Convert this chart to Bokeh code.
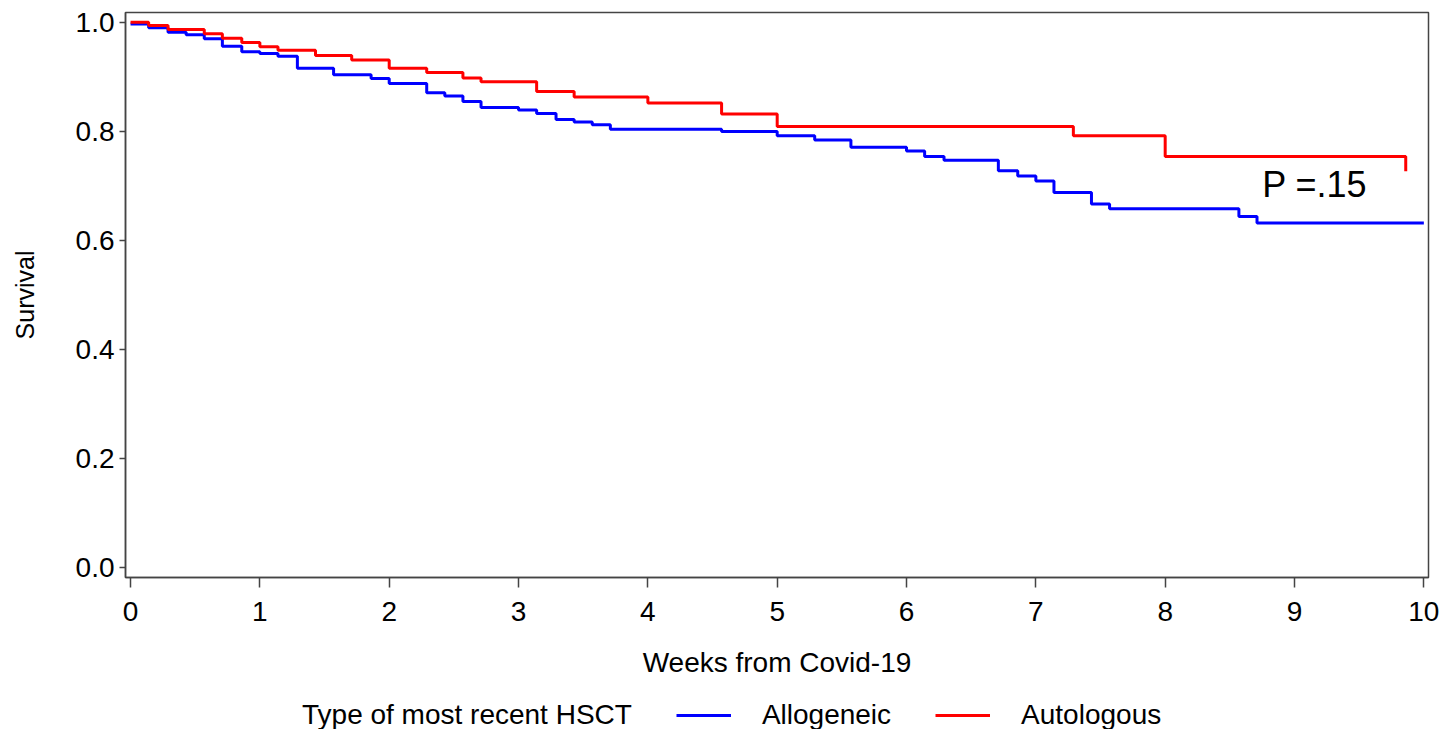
from bokeh.plotting import figure
from bokeh.layouts import column
from bokeh.models import Range1d, FixedTicker, PrintfTickFormatter, Legend, LegendItem, Label
from bokeh.embed import file_html
from bokeh.resources import INLINE
from bokeh.core.properties import value

# ---- data ----
allo_weeks = [0, 0.14, 0.29, 0.43, 0.57, 0.71, 0.86, 1.0, 1.14, 1.29, 1.57, 1.86, 2.0,
              2.29, 2.43, 2.57, 2.71, 3.0, 3.14, 3.29, 3.43, 3.57, 3.71, 4.57, 5.0,
              5.29, 5.57, 6.0, 6.14, 6.29, 6.71, 6.86, 7.0, 7.14, 7.43, 7.57, 8.57,
              8.71, 10.0]
allo_surv = [0.997, 0.990, 0.982, 0.977, 0.970, 0.956, 0.946, 0.943, 0.938, 0.916,
             0.904, 0.897, 0.888, 0.871, 0.865, 0.855, 0.844, 0.839, 0.833, 0.822,
             0.817, 0.812, 0.804, 0.800, 0.792, 0.784, 0.771, 0.764, 0.754, 0.747,
             0.728, 0.718, 0.709, 0.688, 0.667, 0.658, 0.644, 0.632, 0.632]

auto_weeks = [0, 0.14, 0.29, 0.57, 0.71, 0.86, 1.0, 1.14, 1.43, 1.71, 2.0, 2.29, 2.57,
              2.71, 3.14, 3.43, 4.0, 4.57, 5.0, 7.29, 8.0, 9.86]
auto_surv = [1.0, 0.994, 0.987, 0.979, 0.971, 0.963, 0.955, 0.949, 0.939, 0.931,
             0.916, 0.908, 0.898, 0.891, 0.873, 0.863, 0.852, 0.832, 0.809, 0.792,
             0.754, 0.727]

x_ticks = [0, 1, 2, 3, 4, 5, 6, 7, 8, 9, 10]
y_ticks = [0.0, 0.2, 0.4, 0.6, 0.8, 1.0]
group_title = "Type of most recent HSCT"
group_names = ["Allogeneic", "Autologous"]
group_colors = ["#0000FF", "#FF0000"]
p_value_text = "P =.15"
x_label = "Weeks from Covid-19"
y_label = "Survival"

FONT = "Liberation Sans"
FRAME = "#444444"
NAN = float("nan")

# ---- main chart ----
p = figure(width=1442, height=692,
           x_range=Range1d(-0.039, 10.036), y_range=Range1d(-0.018, 1.018),
           output_backend="svg", toolbar_location=None,
           min_border_left=125, min_border_right=14, min_border_top=12, min_border_bottom=115,
           x_axis_label=x_label, y_axis_label=y_label)
p.grid.visible = False
p.outline_line_color = FRAME
p.outline_line_width = 1.5
p.background_fill_color = "white"
p.border_fill_color = "white"

p.step(allo_weeks, allo_surv, mode="after", line_color=group_colors[0], line_width=3)
p.step(auto_weeks, auto_surv, mode="after", line_color=group_colors[1], line_width=3)

for ax in (p.xaxis[0], p.yaxis[0]):
    ax.axis_line_color = FRAME
    ax.axis_line_width = 1.5
    ax.major_tick_line_color = FRAME
    ax.major_tick_line_width = 1.5
    ax.minor_tick_line_color = None
    ax.major_tick_in = 0
    ax.major_label_text_font = FONT
    ax.major_label_text_font_size = "28px"
    ax.major_label_text_color = "black"
    ax.axis_label_text_font = FONT
    ax.axis_label_text_font_style = "normal"
    ax.axis_label_text_color = "black"

xa = p.xaxis[0]
xa.ticker = FixedTicker(ticks=x_ticks)
xa.major_tick_out = 10
xa.major_label_standoff = 14
xa.axis_label_standoff = 23
xa.axis_label_text_font_size = "28px"

ya = p.yaxis[0]
ya.ticker = FixedTicker(ticks=y_ticks)
ya.formatter = PrintfTickFormatter(format="%.1f")
ya.major_tick_out = 6
ya.major_label_standoff = 5
ya.axis_label_standoff = 34
ya.axis_label_text_font_size = "25px"

p.add_layout(Label(x=8.75, y=0.703, text=p_value_text, text_font=FONT,
                   text_font_size="36px", text_baseline="alphabetic", text_color="black"))

# ---- legend strip under the chart ----
q = figure(width=1442, height=37, x_range=Range1d(0, 1), y_range=Range1d(0, 1),
           output_backend="svg", toolbar_location=None,
           min_border_left=0, min_border_right=0, min_border_top=0, min_border_bottom=0)
q.axis.visible = False
q.grid.visible = False
q.outline_line_color = None
q.border_fill_color = "white"
q.background_fill_color = "white"

k_title = q.line(x=[NAN], y=[NAN], line_alpha=0)
k_allo = q.line(x=[NAN], y=[NAN], line_color=group_colors[0], line_width=3)
k_auto = q.line(x=[NAN], y=[NAN], line_color=group_colors[1], line_width=3)

legend = Legend(items=[
    LegendItem(label=value(group_title), renderers=[k_title]),
    LegendItem(label=value(group_names[0]), renderers=[k_allo]),
    LegendItem(label=value(group_names[1]), renderers=[k_auto]),
], orientation="horizontal", location=(91, -3), padding=0, margin=0,
    spacing=44, label_standoff=31, glyph_width=55, glyph_height=34, label_height=34,
    border_line_color=None, background_fill_alpha=0,
    label_text_font=FONT, label_text_font_size="28px", label_text_color="black")
q.add_layout(legend)

layout = column(p, q, spacing=0)
open("out.html", "w").write(file_html(layout, INLINE))
